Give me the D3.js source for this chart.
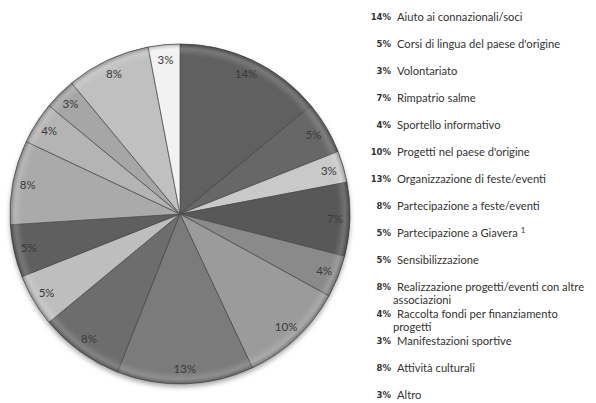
<!DOCTYPE html>
<html>
<head>
<meta charset="utf-8">
<script src="https://cdn.jsdelivr.net/npm/d3@7"></script>
<style>
  body { margin: 0; background: #fff; }
  svg { display: block; }
</style>
</head>
<body>
<div id="chart"></div>
<script>
// slices, clockwise from 12 o'clock
const categories = [
  "Aiuto ai connazionali/soci",
  "Corsi di lingua del paese d'origine",
  "Volontariato",
  "Rimpatrio salme",
  "Sportello informativo",
  "Progetti nel paese d'origine",
  "Organizzazione di feste/eventi",
  "Partecipazione a feste/eventi",
  "Partecipazione a Giavera",
  "Sensibilizzazione",
  "Realizzazione progetti/eventi con altre associazioni",
  "Raccolta fondi per finanziamento progetti",
  "Manifestazioni sportive",
  "Attività culturali",
  "Altro"
];
const values = [14, 5, 3, 7, 4, 10, 13, 8, 5, 5, 8, 4, 3, 8, 3];
const grays = ["#606060", "#676767", "#c9c9c9", "#585858", "#8a8a8a", "#9b9b9b", "#7b7b7b",
               "#6d6d6d", "#bebebe", "#5f5f5f", "#aaaaaa", "#b4b4b4", "#a6a6a6", "#c0c0c0", "#f2f2f2"];
// legend lines (long labels wrap in two)
const legendLines = [
  ["Aiuto ai connazionali/soci"],
  ["Corsi di lingua del paese d'origine"],
  ["Volontariato"],
  ["Rimpatrio salme"],
  ["Sportello informativo"],
  ["Progetti nel paese d'origine"],
  ["Organizzazione di feste/eventi"],
  ["Partecipazione a feste/eventi"],
  ["Partecipazione a Giavera"],
  ["Sensibilizzazione"],
  ["Realizzazione progetti/eventi con altre", "associazioni"],
  ["Raccolta fondi per finanziamento", "progetti"],
  ["Manifestazioni sportive"],
  ["Attività culturali"],
  ["Altro"]
];

const width = 596, height = 403;
const cx = 180, cy = 214, r = 170;

const svg = d3.select("#chart").append("svg")
  .attr("width", width)
  .attr("height", height);

const defs = svg.append("defs");
const shadow = defs.append("filter").attr("id", "shadow")
  .attr("x", "-10%").attr("y", "-10%").attr("width", "120%").attr("height", "125%");
shadow.append("feDropShadow")
  .attr("dx", 0).attr("dy", 3).attr("stdDeviation", 2.5)
  .attr("flood-color", "#000").attr("flood-opacity", 0.35);

const rim = defs.append("radialGradient").attr("id", "rim")
  .attr("cx", "50%").attr("cy", "50%").attr("r", "50%");
rim.append("stop").attr("offset", "0%").attr("stop-color", "#fff").attr("stop-opacity", 0);
rim.append("stop").attr("offset", "93%").attr("stop-color", "#fff").attr("stop-opacity", 0);
rim.append("stop").attr("offset", "97%").attr("stop-color", "#fff").attr("stop-opacity", 0.15);
rim.append("stop").attr("offset", "100%").attr("stop-color", "#000").attr("stop-opacity", 0.25);

const pie = d3.pie().sort(null).value(d => d)(values);
const arc = d3.arc().innerRadius(0).outerRadius(r);
const labelArc = d3.arc().innerRadius(155).outerRadius(155);

const g = svg.append("g").attr("transform", `translate(${cx},${cy})`);

// base disc for the shadow
g.append("circle").attr("r", r).attr("fill", "#777").attr("filter", "url(#shadow)");

const slices = g.selectAll("g.slice").data(pie).enter().append("g").attr("class", "slice");

slices.each(function (d, i) {
  defs.append("clipPath").attr("id", "clip" + i)
    .append("path").attr("d", arc(d)).attr("transform", `translate(${cx},${cy})`);
});

slices.append("path")
  .attr("d", arc)
  .attr("fill", (d, i) => grays[i]);

// bevel highlight inside each slice
slices.append("path")
  .attr("d", arc)
  .attr("fill", "none")
  .attr("stroke", "#fff")
  .attr("stroke-opacity", 0.4)
  .attr("stroke-width", 6)
  .attr("clip-path", (d, i) => `url(#clip${i})`);

slices.append("path")
  .attr("d", arc)
  .attr("fill", "none")
  .attr("stroke", "#fff")
  .attr("stroke-opacity", 0.3)
  .attr("stroke-width", 2.5)
  .attr("clip-path", (d, i) => `url(#clip${i})`);

slices.append("path")
  .attr("d", arc)
  .attr("fill", "none")
  .attr("stroke", "#4a4a4a")
  .attr("stroke-width", 0.7);

g.append("circle").attr("r", r).attr("fill", "url(#rim)");

g.selectAll("text.pct").data(pie).enter().append("text")
  .attr("class", "pct")
  .attr("transform", d => `translate(${labelArc.centroid(d)})`)
  .attr("text-anchor", "middle")
  .attr("dy", "0.35em")
  .style("font-family", "Lato, 'Open Sans', sans-serif")
  .style("font-size", "11.5px")
  .attr("fill", "#3a3a3a")
  .text(d => d.data + "%");

// legend
const ly = d3.scaleLinear().domain([0, categories.length - 1]).range([17, 395]);
const legend = svg.append("g").selectAll("g").data(categories).enter().append("g")
  .attr("transform", (d, i) => `translate(0,${ly(i)})`);

legend.append("text")
  .attr("x", 391)
  .attr("dy", "0.35em")
  .attr("text-anchor", "end")
  .style("font-family", "'DejaVu Sans', sans-serif")
  .style("font-weight", "bold")
  .style("font-size", "8.5px")
  .attr("fill", "#333")
  .text((d, i) => values[i] + "%");

legend.each(function (d, i) {
  const t = d3.select(this).append("text")
    .attr("y", 0)
    .style("font-family", "Lato, 'Open Sans', sans-serif")
    .style("font-size", "11.2px")
    .attr("fill", "#333");
  legendLines[i].forEach((line, k) => {
    t.append("tspan")
      .attr("x", k === 0 ? 397 : 393)
      .attr("dy", k === 0 ? "0.35em" : "13.5")
      .text(line);
  });
  if (d === "Partecipazione a Giavera") {
    t.append("tspan").attr("dx", 3).attr("dy", -4).style("font-size", "8px").text("1");
  }
});
</script>
</body>
</html>
